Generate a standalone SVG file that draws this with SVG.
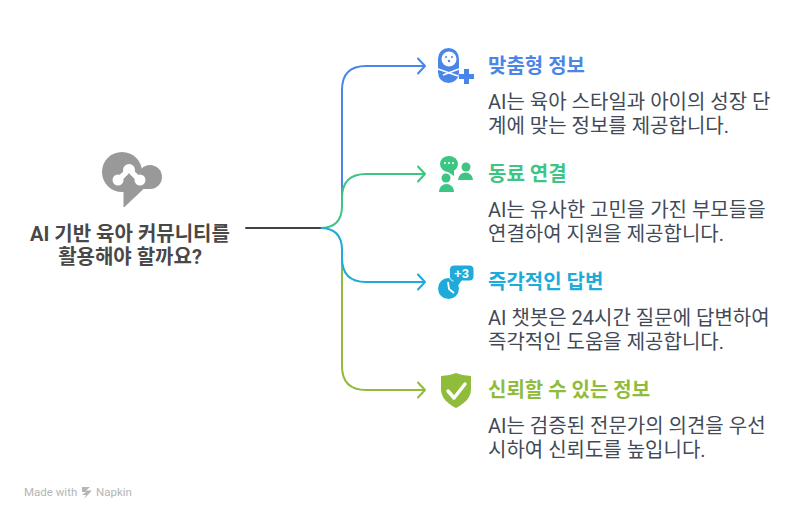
<svg xmlns="http://www.w3.org/2000/svg" width="810" height="520" viewBox="0 0 810 520">
<style>
text{font-family:"Roboto","Noto Sans CJK KR",sans-serif}
.h{font-size:20px;font-weight:700}
.b{font-size:20px;fill:#424a57}
.t{font-size:20px;font-weight:700;fill:#484848;text-anchor:middle}
.c{fill:none;stroke-width:2;stroke-linecap:round;stroke-linejoin:round}
</style>
<rect width="810" height="520" fill="#fff"/>
<g id="connectors">
<path class="c" stroke="#4a86e8" d="M342 206V90Q342 66 366 66H425M418 58.500L425 66L418 73.500"/>
<path class="c" stroke="#3cc583" d="M320 228Q342 228 342 206V198Q342 174 366 174H425M418 166.500L425 174L418 181.500"/>
<path class="c" stroke="#8fbc3a" d="M342 250V366Q342 390 366 390H425M418 382.500L425 390L418 397.500"/>
<path class="c" stroke="#1eabda" d="M320 228Q342 228 342 250V258Q342 282 366 282H425M418 274.500L425 282L418 289.500"/>
<path class="c" stroke="#424242" d="M246 228H320"/>
</g>
<g id="root">
<g fill="#999">
<circle cx="122" cy="172" r="20"/><circle cx="150" cy="177" r="12"/>
<rect x="122" y="170" width="28" height="19"/><path d="M124 185V207L145 187Z" stroke="#999" stroke-linejoin="round"/>
</g>
<g fill="#fff"><circle cx="118" cy="180" r="5.500"/><circle cx="129" cy="170" r="6"/><circle cx="140" cy="180" r="5.500"/></g>
<path d="M129 170L118 180M129 170L140 180" fill="none" stroke="#fff" stroke-width="5.500"/>
<path d="M129 173L125 178H133Z" fill="#999"/>
<text class="t" x="130" y="241">AI 기반 육아 커뮤니티를</text>
<text class="t" x="130" y="264">활용해야 할까요?</text>
</g>
<g id="n1">
<g fill="#4a86e8">
<rect x="438" y="48" width="21" height="35" rx="10.500"/>
<path d="M465 70h5v5h5v5h-5v5h-5v-5h-5v-5h5z" transform="translate(-1 -1)"/>
</g>
<circle cx="449" cy="59" r="7.500" fill="#fff"/>
<path d="M438 69L458 76M459 69L443 75" stroke="#fff" stroke-width="1.500" fill="none"/>
<circle cx="446" cy="57" r="1" fill="#4a86e8"/><circle cx="452" cy="57" r="1" fill="#4a86e8"/><circle cx="449" cy="61" r="1.200" fill="#4a86e8"/>
<text class="h" x="488" y="73" fill="#4a86e8">맞춤형 정보</text>
<text class="b" x="488" y="109">AI는 육아 스타일과 아이의 성장 단</text>
<text class="b" x="488" y="133">계에 맞는 정보를 제공합니다.</text>
</g>
<g id="n2">
<g fill="#3cc583">
<ellipse cx="449" cy="164" rx="9" ry="8"/><path d="M445 170L454 170L454 176Z"/>
<circle cx="466" cy="167" r="4.500"/><path d="M458 180a7.500 7.500 0 0 1 15 0z"/>
<circle cx="446" cy="178" r="4.500"/><path d="M439 192a7.500 8 0 0 1 15 0z"/>
</g>
<g fill="#fff"><circle cx="445" cy="163" r="1"/><circle cx="449" cy="163" r="1"/><circle cx="453" cy="163" r="1"/></g>
<text class="h" x="488" y="181" fill="#3cc583">동료 연결</text>
<text class="b" x="488" y="217">AI는 유사한 고민을 가진 부모들을</text>
<text class="b" x="488" y="241">연결하여 지원을 제공합니다.</text>
</g>
<g id="n3">
<circle cx="448.500" cy="288.500" r="10.500" fill="#1eabda"/>
<path d="M448 282L449 289L454 293" fill="none" stroke="#fff" stroke-width="1.800"/>
<rect x="449.500" y="265" width="24.500" height="16" rx="4.500" fill="#1eabda" stroke="#fff" stroke-width="1"/>
<path d="M453 280L457 287L462 280Z" fill="#1eabda"/>
<text x="461.500" y="278" font-size="13" font-weight="700" fill="#fff" text-anchor="middle" style="font-family:'Liberation Sans',sans-serif">+3</text>
<text class="h" x="488" y="289" fill="#1eabda">즉각적인 답변</text>
<text class="b" x="488" y="325">AI 챗봇은 24시간 질문에 답변하여</text>
<text class="b" x="488" y="349">즉각적인 도움을 제공합니다.</text>
</g>
<g id="n4">
<path d="M456 373Q463 376 471 376V389C471 398 464 404 456 408C448 404 441 398 441 389V376Q449 376 456 373Z" fill="#8fbc3a"/>
<path d="M448 391L454 398L465 384" fill="none" stroke="#fff" stroke-width="3.500" stroke-linecap="round" stroke-linejoin="round"/>
<text class="h" x="488" y="397" fill="#8fbc3a">신뢰할 수 있는 정보</text>
<text class="b" x="488" y="433">AI는 검증된 전문가의 의견을 우선</text>
<text class="b" x="488" y="457">시하여 신뢰도를 높입니다.</text>
</g>
<g id="credit">
<text x="24" y="496" font-size="11.500" fill="#b5b5b5">Made with</text>
<path d="M82 487H90L86 490.500H92L84 499L86 495H82L86 492H82Z" fill="#b5b5b5"/>
<text x="96" y="496" font-size="11.500" fill="#b5b5b5">Napkin</text>
</g>
</svg>
